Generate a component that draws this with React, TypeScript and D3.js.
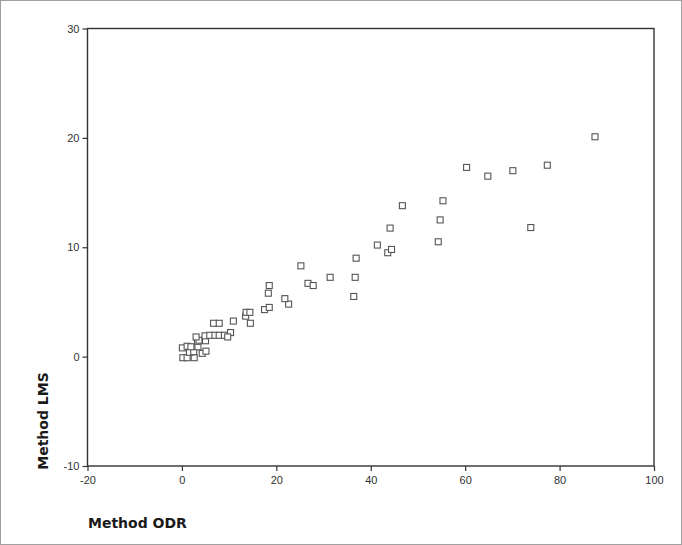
import { axisBottom, axisLeft, scaleLinear, select } from "d3";
import { useEffect, useRef } from "react";

// Method ODR (x) vs Method LMS (y)
const odrValues = [
  0.2, 1.1, 2.6, 1.6, 2.5, 4.3, 5.1, 0.1, 1.1, 1.9, 3.4, 3.3, 3.6, 3.0, 5.0, 4.9,
  5.9, 7.0, 7.9, 9.0, 10.3, 9.7, 6.7, 7.9, 10.9, 14.5, 13.5, 13.6, 14.4, 17.5,
  18.5, 22.6, 21.8, 18.3, 18.5, 26.7, 27.8, 25.2, 31.4, 36.7, 36.4, 36.9, 41.4,
  43.6, 44.4, 44.1, 46.7, 54.3, 54.7, 55.3, 60.3, 64.8, 70.1, 77.4, 73.9, 87.5,
];
const lmsValues = [
  -0.1, -0.1, -0.1, 0.4, 0.45, 0.3, 0.5, 0.8, 0.95, 0.9, 0.9, 1.4, 1.5, 1.8, 1.45,
  1.9, 1.95, 1.95, 1.95, 1.95, 2.2, 1.8, 3.05, 3.05, 3.25, 3.05, 3.7, 4.05, 4.05,
  4.3, 4.5, 4.8, 5.3, 5.8, 6.5, 6.7, 6.5, 8.3, 7.25, 7.25, 5.5, 9.0, 10.2, 9.5,
  9.8, 11.75, 13.8, 10.5, 12.5, 14.25, 17.3, 16.5, 17.0, 17.5, 11.8, 20.1,
];
const xTicks = [-20, 0, 20, 40, 60, 80, 100];
const yTicks = [-10, 0, 10, 20, 30];

const margin = { top: 28.5, right: 28, bottom: 79, left: 87.5 };
const W = 682;
const H = 545;
const width = W - margin.left - margin.right;
const height = H - margin.top - margin.bottom;

const x = scaleLinear().domain([-20, 100]).range([0, width]);
const y = scaleLinear().domain([-10, 30]).range([height, 0]);

const tickFont = "'Liberation Sans Narrow', 'Liberation Sans', Arial, sans-serif";

function Axes() {
  const xRef = useRef<SVGGElement>(null);
  const yRef = useRef<SVGGElement>(null);

  useEffect(() => {
    if (xRef.current) {
      const g = select(xRef.current);
      g.call(
        axisBottom(x)
          .tickValues(xTicks)
          .tickSize(5)
          .tickPadding(5)
          .tickFormat((d) => String(d))
      );
      g.attr("font-family", tickFont).attr("font-size", 11);
      g.select(".domain").remove();
      g.selectAll("line").attr("stroke", "#333").attr("stroke-width", 1.2);
      g.selectAll("text").attr("fill", "#333");
    }
    if (yRef.current) {
      const g = select(yRef.current);
      g.call(
        axisLeft(y)
          .tickValues(yTicks)
          .tickSize(5)
          .tickPadding(3)
          .tickFormat((d) => String(d))
      );
      g.attr("font-family", tickFont).attr("font-size", 11);
      g.select(".domain").remove();
      g.selectAll("line").attr("stroke", "#333").attr("stroke-width", 1.2);
      g.selectAll("text").attr("fill", "#333");
    }
  }, []);

  return (
    <>
      <g ref={xRef} transform={`translate(0, ${height})`} />
      <g ref={yRef} />
    </>
  );
}

export default function App() {
  const s = 6;
  return (
    <svg
      width={W}
      height={H}
      style={{ position: "absolute", left: 0, top: 0, display: "block", background: "#fff" }}
    >
      <rect x={0.5} y={0.5} width={W - 1} height={H - 1} fill="#fff" stroke="#a0a0a0" />
      <g transform={`translate(${margin.left}, ${margin.top})`}>
        <rect x={0} y={0} width={width} height={height} fill="none" stroke="#333" strokeWidth={1.4} />
        <Axes />
        {odrValues.map((v, i) => (
          <rect
            key={i}
            x={x(v) - s / 2}
            y={y(lmsValues[i]) - s / 2}
            width={s}
            height={s}
            fill="#fff"
            stroke="#555"
            strokeWidth={1.1}
          />
        ))}
      </g>
      <text
        transform={`translate(48, 421) rotate(-90)`}
        textAnchor="middle"
        fontFamily="'DejaVu Sans', Verdana, sans-serif"
        fontWeight="bold"
        fontSize={14}
        fill="#1a1a1a"
      >
        Method LMS
      </text>
      <text
        x={88}
        y={528}
        fontFamily="'DejaVu Sans', Verdana, sans-serif"
        fontWeight="bold"
        fontSize={14}
        fill="#1a1a1a"
      >
        Method ODR
      </text>
    </svg>
  );
}
